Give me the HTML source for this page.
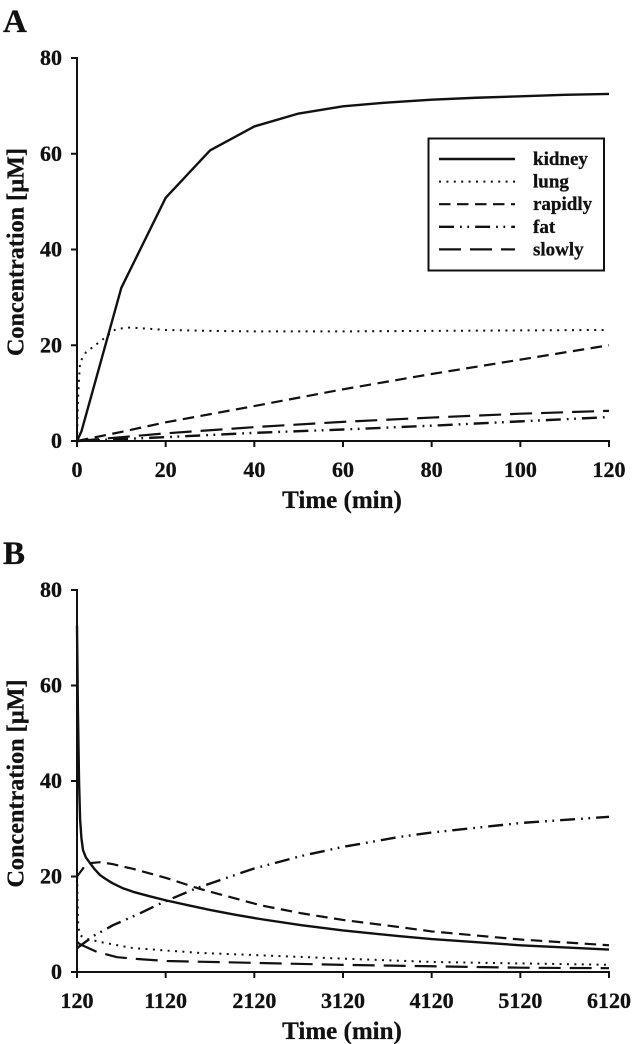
<!DOCTYPE html>
<html>
<head>
<meta charset="utf-8">
<title>Concentration over time</title>
<style>
html,body{margin:0;padding:0;background:#fff;}
#wrap{position:relative;width:632px;height:1044px;overflow:hidden;background:#fff;}
svg{display:block;}
text{font-family:"Liberation Serif",serif;font-weight:bold;fill:#111;stroke:#111;stroke-width:0.3px;}
</style>
</head>
<body>
<div id="wrap">
<svg id="fig" width="632" height="1044" viewBox="0 0 632 1044" xmlns="http://www.w3.org/2000/svg"></svg>
</div>
<script>
var seriesNames = ['kidney','lung','rapidly','fat','slowly'];

var yTicks = [0,20,40,60,80];
var xTicksA = [0,20,40,60,80,100,120];
var xTicksB = [120,1120,2120,3120,4120,5120,6120];

var kidneyATime = [0,1,10,20,30,40,50,60,70,80,90,100,110,120];
var kidneyAConc = [0,2,32,50.8,60.7,65.7,68.4,69.9,70.7,71.3,71.7,72,72.3,72.5];
var lungATime = [0,0.1,0.2,0.4,0.7,2,3.7,5.5,8.8,12,20,30,40,60,80,100,120];
var lungAConc = [0,4,8,12,16.5,18.5,19.7,21,23.4,23.7,23.2,23,22.9,22.9,23,23.1,23.2];
var rapidlyATime = [0,10,20,40,60,80,100,120];
var rapidlyAConc = [0,1.9,3.9,7.3,10.8,14,17,20];
var fatATime = [0,10,20,40,60,80,100,120];
var fatAConc = [0,0.4,0.8,1.7,2.4,3.2,4.1,5];
var slowlyATime = [0,10,20,40,60,80,100,120];
var slowlyAConc = [0,0.8,1.6,2.9,4,4.9,5.7,6.3];

var kidneyBTime = [120,130,143,155,170,188,220,267,320,379,450,520,630,752,930,1124,1370,1620,1900,2184,2650,3120,3760,4120,5120,6120];
var kidneyBConc = [72.5,55,40,32,28,25.5,24,22.8,21.5,20.3,19.4,18.6,17.6,16.8,15.9,15,14,13,12,11.1,9.8,8.7,7.5,6.9,5.6,4.7];
var lungBTime = [120,125,130,140,154,220,379,752,1507,2184,3120,4135,5120,6120];
var lungBConc = [23,16,11,9,7.7,7,6.3,5,4,3.5,2.8,2.1,1.8,1.5];
var rapidlyBTime = [120,160,200,267,379,520,752,930,1124,1507,2184,2650,3120,3760,4120,5120,6120];
var rapidlyBConc = [20,21,22,22.8,23,22.6,21.6,20.7,19.7,17.4,14,12.3,10.9,9.4,8.5,6.8,5.6];
var fatBTime = [120,320,526,820,1090,1474,2105,2650,3120,3760,4120,5120,6120];
var fatBConc = [5,7.7,9.8,12.2,14.6,17.6,21.6,24.3,26.2,28.3,29.2,31.2,32.5];
var slowlyBTime = [120,154,250,346,571,820,1135,2150,3120,4120,5120,6120];
var slowlyBConc = [6.3,5.8,5,4.2,3.1,2.7,2.3,1.9,1.5,1.2,0.9,0.8];

var NS = 'http://www.w3.org/2000/svg';
var fig = document.getElementById('fig');

var dashStyles = {
  kidney:{d:'',w:2.4},
  lung:{d:'2 5.4',w:2},
  rapidly:{d:'11.5 6.5',w:2.2},
  fat:{d:'15 6 1.8 5.5 1.8 6',w:2.4},
  slowly:{d:'22 9',w:2.2}
};

function el(tag, attrs, parent){
  var e = document.createElementNS(NS, tag);
  for (var k in attrs) e.setAttribute(k, attrs[k]);
  (parent || fig).appendChild(e);
  return e;
}
function label(str, x, y, size, anchor, parent, name, rot){
  var t = el('text', {x:x, y:y, 'font-size':size, 'text-anchor':anchor}, parent);
  
  
  if (rot) t.setAttribute('transform', 'rotate(-90 ' + x + ' ' + y + ')');
  t.textContent = str;
  return t;
}

function drawPanel(cfg){
  var g = el('g', {});
  
  
  var sx = function(v){ return cfg.x0 + (v - cfg.xMin) / (cfg.xMax - cfg.xMin) * (cfg.x1 - cfg.x0); };
  var sy = function(v){ return cfg.y0 - v / 80 * (cfg.y0 - cfg.y1); };

  label(cfg.id, 3, cfg.letterY, 33, 'start', g, 'panel-letter-' + cfg.id);

  cfg.series.forEach(function(s){
    var pts = s.t.map(function(v, i){ return sx(v).toFixed(2) + ',' + sy(s.c[i]).toFixed(2); }).join(' ');
    var st = dashStyles[s.name];
    var p = el('polyline', {points:pts, fill:'none', stroke:'#111', 'stroke-width':st.w, 'stroke-linejoin':'round'}, g);
    if (st.d) p.setAttribute('stroke-dasharray', st.d);
    
    
  });

  var ya = el('line', {x1:cfg.x0, x2:cfg.x0, y1:cfg.y1 - 1, y2:cfg.y0 + 1, stroke:'#111', 'stroke-width':2}, g);
  
  
  var xa = el('line', {x1:cfg.x0 - 1, x2:cfg.x1 + 1, y1:cfg.y0, y2:cfg.y0, stroke:'#111', 'stroke-width':2}, g);
  
  

  yTicks.forEach(function(v){
    var tk = el('line', {x1:cfg.x0 - 6, x2:cfg.x0, y1:sy(v), y2:sy(v), stroke:'#111', 'stroke-width':2}, g);
    
    
    label(String(v), 62, sy(v) + 7, 22, 'end', g, 'y-tick-label-' + v);
  });
  cfg.xTicks.forEach(function(v){
    var tk = el('line', {x1:sx(v), x2:sx(v), y1:cfg.y0, y2:cfg.y0 + 6, stroke:'#111', 'stroke-width':2}, g);
    
    
    label(String(v), sx(v), cfg.y0 + 36, 22, 'middle', g, 'x-tick-label-' + v);
  });

  label('Time (min)', 342, cfg.y0 + 67, 25, 'middle', g, 'x-axis-title-' + cfg.id);
  label('Concentration [µM]', 23.5, (cfg.y0 + cfg.y1) / 2 + 2.5, 24.2, 'middle', g, 'y-axis-title-' + cfg.id, true);
}

drawPanel({
  id:'A', x0:77, x1:609, y0:441, y1:58, xMin:0, xMax:120, letterY:32, xTicks:xTicksA,
  series:[
    {name:'kidney', t:kidneyATime, c:kidneyAConc},
    {name:'lung', t:lungATime, c:lungAConc},
    {name:'rapidly', t:rapidlyATime, c:rapidlyAConc},
    {name:'fat', t:fatATime, c:fatAConc},
    {name:'slowly', t:slowlyATime, c:slowlyAConc}
  ]
});
drawPanel({
  id:'B', x0:77, x1:609, y0:972, y1:590, xMin:120, xMax:6120, letterY:564, xTicks:xTicksB,
  series:[
    {name:'kidney', t:kidneyBTime, c:kidneyBConc},
    {name:'lung', t:lungBTime, c:lungBConc},
    {name:'rapidly', t:rapidlyBTime, c:rapidlyBConc},
    {name:'fat', t:fatBTime, c:fatBConc},
    {name:'slowly', t:slowlyBTime, c:slowlyBConc}
  ]
});

var legend = el('g', {});


var box = el('rect', {x:428.5, y:138.5, width:175.5, height:132, fill:'#fff', stroke:'#111', 'stroke-width':2}, legend);


seriesNames.forEach(function(n, i){
  var y = 159 + i * 22.6;
  var st = dashStyles[n];
  var l = el('line', {x1:439, x2:515, y1:y, y2:y, stroke:'#111', 'stroke-width':st.w}, legend);
  if (st.d) l.setAttribute('stroke-dasharray', st.d);
  
  
  label(n, 533, y + 6, 19, 'start', legend, 'legend-entry-' + n);
});
</script>
</body>
</html>
